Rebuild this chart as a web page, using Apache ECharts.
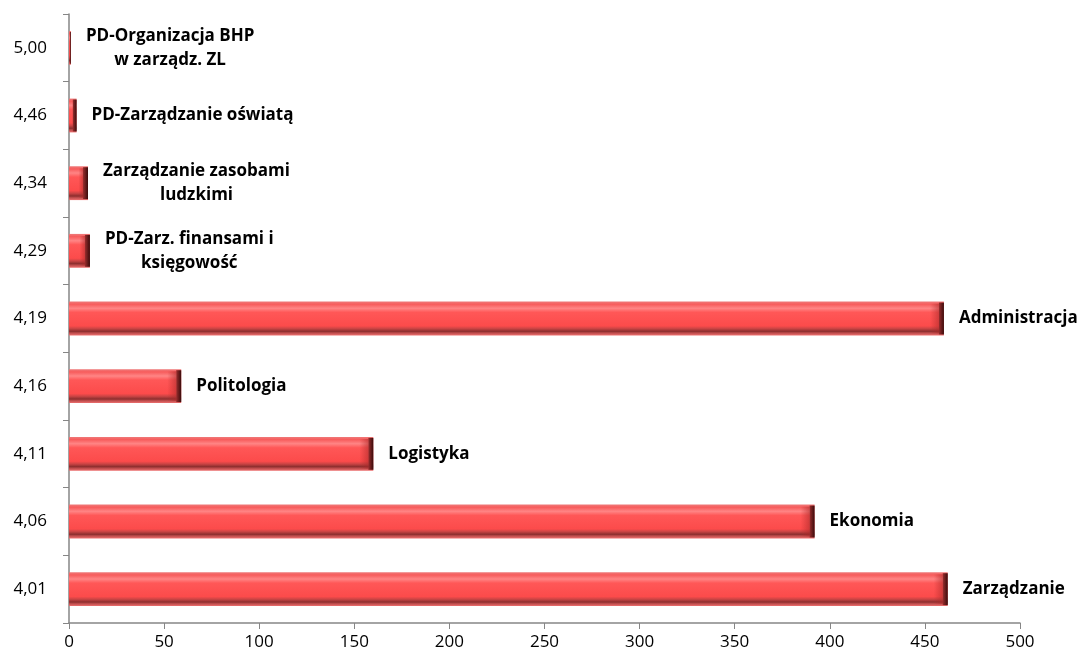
<!DOCTYPE html>
<html><head><meta charset="utf-8">
<script src="https://cdn.jsdelivr.net/npm/echarts@6/dist/echarts.min.js"></script>
<style>html,body{margin:0;padding:0;background:#fff}#c{width:1082px;height:652px}</style>
</head><body><div id="c"></div>
<script>
const categories = ["4,01","4,06","4,11","4,16","4,19","4,29","4,34","4,46","5,00"];
const barNames = ["Zarządzanie","Ekonomia","Logistyka","Politologia","Administracja","PD-Zarz. finansami i\nksięgowość","Zarządzanie zasobami\nludzkimi","PD-Zarządzanie oświatą","PD-Organizacja BHP\nw zarządz. ZL"];
const values = [462, 392, 160, 59, 460, 11, 10, 4, 1];
const xTicks = [0, 50, 100, 150, 200, 250, 300, 350, 400, 450, 500];

const LABEL_FONT = 'bold 17px "Open Sans"';
const mctx = document.createElement('canvas').getContext('2d');
mctx.font = LABEL_FONT;
function maxLineWidth(t){ return Math.max.apply(null, t.split('\n').map(s => mctx.measureText(s).width)); }

const chart = echarts.init(document.getElementById('c'), null, {renderer:'canvas'});
const G = echarts.graphic;
function renderItem(params, api){
  const v = api.value(0), ci = api.value(1);
  const s = api.coord([0, ci]);
  const e = api.coord([v, ci]);
  const band = api.size([0, 1])[1];
  const h = band * 0.5;
  const x0 = s[0], y0 = s[1] - h/2, w = Math.max(e[0] - s[0], 1.5);
  const cap = Math.min(5, w*0.5);
  const shade = Math.min(14, w*0.5);
  const name = barNames[params.dataIndex];
  const tw = maxLineWidth(name);
  return {
    type:'group',
    children:[
      {type:'rect', shape:{x:x0, y:y0, width:w, height:h},
        style:{fill:new G.LinearGradient(0,0,0,1,[
          {offset:0, color:'#ee7a7a'},
          {offset:0.08, color:'#f75c5c'},
          {offset:0.2, color:'#ff8585'},
          {offset:0.32, color:'#ff5757'},
          {offset:0.72, color:'#fc4b4b'},
          {offset:0.8, color:'#c94444'},
          {offset:0.88, color:'#8c2e2e'},
          {offset:0.92, color:'#b84848'},
          {offset:1, color:'#ee7070'}])}},
      {type:'rect', shape:{x:x0 + w - shade, y:y0 + 2, width:shade - cap, height:h - 4},
        style:{fill:new G.LinearGradient(0,0,1,0,[
          {offset:0, color:'rgba(180,40,40,0)'},
          {offset:1, color:'rgba(170,40,40,0.55)'}])}},
      {type:'rect', shape:{x:x0 + w - cap, y:y0 + 1, width:cap, height:h - 2},
        style:{fill:new G.LinearGradient(0,0,1,0,[
          {offset:0, color:'#9a2e2e'},
          {offset:1, color:'#3a0b0b'}])}},
      {type:'text', x: e[0] + 15 + tw/2, y: s[1],
        style:{text:name, font:LABEL_FONT, fill:'#000', align:'center', verticalAlign:'middle', lineHeight:24}}
    ]
  };
}

chart.setOption({
  animation:false,
  backgroundColor:'#fff',
  grid:{left:69, right:62, top:14, bottom:29, containLabel:false},
  xAxis:{type:'value', min:0, max:500, interval:50,
    axisLine:{show:true, lineStyle:{color:'#868686', width:1.5}},
    axisTick:{show:true, length:6, lineStyle:{color:'#868686'}},
    splitLine:{show:false},
    axisLabel:{color:'#000', fontFamily:'Open Sans', fontSize:17, margin:11,
      formatter: v => xTicks.indexOf(v) >= 0 ? String(v) : ''}},
  yAxis:{type:'category', data:categories,
    axisLine:{show:true, lineStyle:{color:'#868686', width:1.5}},
    axisTick:{show:true, length:6, lineStyle:{color:'#868686'}},
    axisLabel:{color:'#000', fontFamily:'Open Sans', fontSize:17, margin:22}},
  series:[{type:'custom', renderItem: renderItem,
    encode:{x:0, y:1},
    data: values.map((v,i) => [v, i])}]
});
</script></body></html>
